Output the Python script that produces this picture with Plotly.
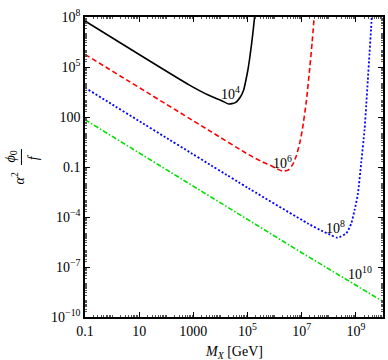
import math
import plotly.graph_objects as go

# ---- data (M_X in GeV, y = alpha^2 phi0 / f) ----
mx_1e4 = [0.1, 692, 3740, 1.12e4, 2.0e4, 3.55e4, 5.43e4, 7.18e4, 8.71e4, 1.03e5, 1.175e5, 1.32e5, 1.48e5, 1.64e5, 1.82e5]
y_1e4 = [5.75e7, 8.5e3, 2.0e3, 955, 603, 724, 1.58e3, 4.17e3, 1.66e4, 6.6e4, 2.63e5, 1.05e6, 4.68e6, 2.0e7, 1.0e8]

mx_1e6 = [0.1, 3740, 1.10e5, 3.37e5, 6.84e5, 1.2e6, 1.9e6, 3.2e6, 4.89e6, 6.46e6, 8.6e6, 1.05e7, 1.5e7, 2.0e7, 2.43e7, 2.88e7]
y_1e6 = [5.75e5, 15.8, 0.55, 0.209, 0.126, 0.0794, 0.0575, 0.066, 0.166, 0.525, 3.16, 16.6, 1.05e3, 1.05e5, 3.16e6, 1.0e8]

mx_1e8 = [0.1, 1.1e5, 1.74e7, 5.35e7, 1.12e8, 2.06e8, 4.4e8, 6.73e8, 8.95e8, 1.18e9, 1.56e9, 2.08e9, 2.4e9, 2.75e9, 3.16e9, 3.63e9, 3.85e9]
y_1e8 = [5.75e3, 5.25e-3, 3.98e-5, 1.51e-5, 8.7e-6, 5.75e-6, 1.05e-5, 4.17e-5, 2.63e-4, 2.4e-3, 0.166, 16.6, 5.0e2, 1.58e4, 5.6e5, 2.0e7, 1.0e8]

mx_1e10 = [0.1, 1e7, 1e10]
y_1e10 = [69, 7.2e-7, 8.5e-10]

x_tickvals = [0.1, 10, 1000, 1e5, 1e7, 1e9]
x_ticktext = ["0.1", "10", "1000", "10<sup>5</sup>", "10<sup>7</sup>", "10<sup>9</sup>"]
y_tickvals = [1e-10, 1e-7, 1e-4, 0.1, 100, 1e5, 1e8]
y_ticktext = ["10<sup>\u221210</sup>", "10<sup>\u22127</sup>", "10<sup>\u22124</sup>", "0.1", "100", "10<sup>5</sup>", "10<sup>8</sup>"]

curve_labels = ["10<sup>4</sup>", "10<sup>6</sup>", "10<sup>8</sup>", "10<sup>10</sup>"]
label_pos = [(10**4.38, 10**3.44), (10**6.29, 10**-0.72), (10**8.24, 10**-4.62), (10**9.15, 10**-7.33)]

FONT = "Liberation Serif, Times New Roman, serif"

fig = go.Figure()
fig.add_trace(go.Scatter(x=mx_1e4, y=y_1e4, mode="lines", line=dict(color="black", width=1.6, shape="spline", smoothing=0.6)))
fig.add_trace(go.Scatter(x=mx_1e6, y=y_1e6, mode="lines", line=dict(color="#ff0000", width=1.6, dash="5px,3px", shape="spline", smoothing=0.6)))
fig.add_trace(go.Scatter(x=mx_1e8, y=y_1e8, mode="lines", line=dict(color="#0000ff", width=1.8, dash="2px,2px", shape="spline", smoothing=0.6)))
fig.add_trace(go.Scatter(x=mx_1e10, y=y_1e10, mode="lines", line=dict(color="#00e000", width=1.6, dash="5px,2px,1.5px,2px")))

for txt, (lx, ly) in zip(curve_labels, label_pos):
    fig.add_annotation(x=math.log10(lx), y=math.log10(ly), text=txt, showarrow=False,
                       xanchor="center", yanchor="middle", font=dict(family=FONT, size=14, color="black"))

axis_common = dict(type="log", showgrid=False, zeroline=False, showline=True, linecolor="black", linewidth=1.5,
                   mirror="allticks", ticks="inside", ticklen=5, tickwidth=1, tickcolor="black",
                   ticklabeloverflow="allow",
                   tickfont=dict(family=FONT, size=14, color="black"),
                   minor=dict(ticks="inside", ticklen=2, tickwidth=0.6, tickcolor="#555", dtick="D1", showgrid=False))

fig.update_xaxes(range=[-1, 10], tickvals=x_tickvals, ticktext=x_ticktext, **axis_common)
fig.update_yaxes(range=[-10, 8], tickvals=y_tickvals, ticktext=y_ticktext, **axis_common)

# axis titles (positions in window pixels, plot area spans x 85..385, y 17..317)
def px2paper(px, py):
    return (px - 85) / 300, (317 - py) / 300

ax, ay = px2paper(235, 352)
fig.add_annotation(xref="paper", yref="paper", x=ax, y=ay, text="<i>M</i><sub><i>X</i></sub> [GeV]",
                   showarrow=False, xanchor="center", yanchor="middle", font=dict(family=FONT, size=14, color="black"))

ax, ay = px2paper(10, 157)
fig.add_annotation(xref="paper", yref="paper", x=ax, y=ay, text="<i>\u03d5</i><sub>0</sub>", textangle=-90,
                   showarrow=False, xanchor="center", yanchor="middle", font=dict(family=FONT, size=14, color="black"))
ax, ay = px2paper(33, 157)
fig.add_annotation(xref="paper", yref="paper", x=ax, y=ay, text="<i>f</i>", textangle=-90,
                   showarrow=False, xanchor="center", yanchor="middle", font=dict(family=FONT, size=14, color="black"))
ax, ay = px2paper(18, 178)
fig.add_annotation(xref="paper", yref="paper", x=ax, y=ay, text="<i>\u03b1</i><sup>2</sup>", textangle=-90,
                   showarrow=False, xanchor="center", yanchor="middle", font=dict(family=FONT, size=14, color="black"))
x0, y0 = px2paper(21, 149)
x1, y1 = px2paper(21, 165)
fig.add_shape(type="line", xref="paper", yref="paper", x0=x0, y0=y0, x1=x1, y1=y1, line=dict(color="black", width=1))

fig.update_layout(width=388, height=360, margin=dict(l=85, r=3, t=17, b=43),
                  plot_bgcolor="white", paper_bgcolor="white", showlegend=False)

# remove the default page margin so the figure fills the 388x360 window exactly
fig.write_html("out.html", config={"displayModeBar": False},
               post_script="document.body.style.margin='0';document.body.style.overflow='hidden';")
